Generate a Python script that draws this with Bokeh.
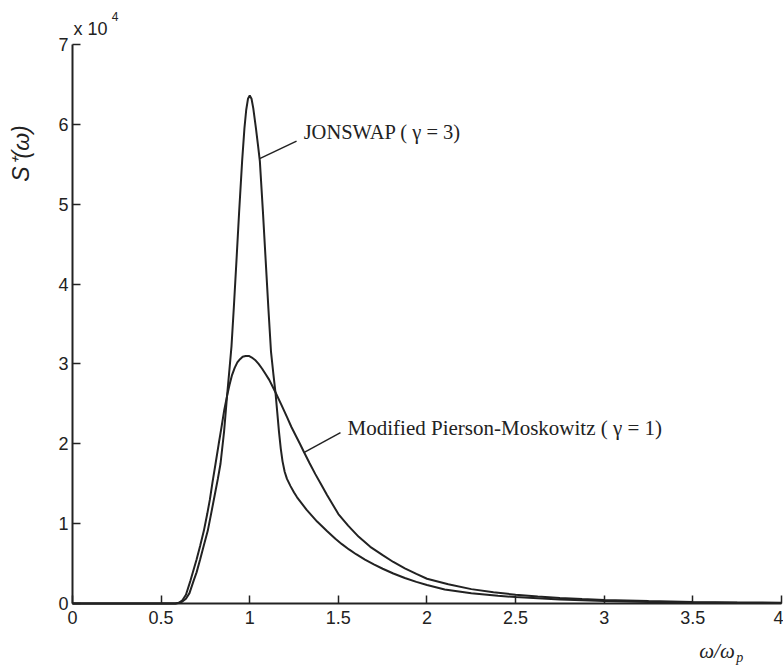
import math
from bokeh.plotting import figure
from bokeh.models import Range1d, FixedTicker, NumeralTickFormatter, Label
from bokeh.embed import file_html
from bokeh.resources import INLINE

# ---- data (S+(omega) in units of 1e4) ----
x_jonswap = [0.0, 0.50, 0.58, 0.60, 0.62, 0.64, 0.66, 0.684, 0.70, 0.72, 0.74, 0.763,
             0.78, 0.80, 0.82, 0.835, 0.855, 0.872, 0.885, 0.897, 0.91, 0.925, 0.94,
             0.957, 0.97, 0.98, 0.99, 1.00, 1.01, 1.02, 1.035, 1.046, 1.057, 1.074,
             1.09, 1.105, 1.12, 1.133, 1.145, 1.155, 1.165, 1.175, 1.185, 1.197, 1.21,
             1.23, 1.25, 1.267, 1.32, 1.38, 1.437, 1.483, 1.52, 1.56, 1.60, 1.65,
             1.70, 1.75, 1.81, 1.875, 1.94, 2.00, 2.10, 2.25, 2.40, 2.50, 2.75, 3.00,
             3.25, 3.50, 3.75, 4.00]
y_jonswap = [0.0, 0.0, 0.0, 0.005, 0.025, 0.06, 0.13, 0.29, 0.39, 0.55, 0.72, 0.91,
             1.10, 1.33, 1.56, 1.75, 2.15, 2.60, 2.92, 3.22, 3.70, 4.29, 4.90,
             5.54, 5.95, 6.18, 6.32, 6.36, 6.32, 6.20, 5.95, 5.75, 5.54, 4.92,
             4.29, 3.70, 3.15, 2.88, 2.645, 2.40, 2.15, 1.94, 1.78, 1.65, 1.56,
             1.47, 1.39, 1.33, 1.176, 1.026, 0.906, 0.81, 0.743, 0.677, 0.617, 0.55,
             0.49, 0.435, 0.376, 0.32, 0.271, 0.231, 0.176, 0.127, 0.097, 0.08, 0.05, 0.03,
             0.02, 0.012, 0.008, 0.005]

x_pm = [0.0, 0.50, 0.58, 0.60, 0.62, 0.64, 0.666, 0.70, 0.72, 0.741, 0.76, 0.775,
        0.79, 0.807, 0.825, 0.84, 0.856, 0.872, 0.886, 0.90, 0.915, 0.93, 0.945,
        0.96, 0.977, 0.995, 1.012, 1.03, 1.05, 1.07, 1.09, 1.11, 1.128, 1.145,
        1.178, 1.211, 1.235, 1.26, 1.283, 1.305, 1.337, 1.37, 1.403, 1.436, 1.468,
        1.50, 1.555, 1.615, 1.68, 1.75, 1.81, 1.875, 1.94, 2.00, 2.12, 2.25, 2.375,
        2.50, 2.625, 2.75, 2.875, 3.00, 3.25, 3.50, 3.75, 4.00]
y_pm = [0.0, 0.0, 0.0, 0.01, 0.04, 0.11, 0.29, 0.55, 0.72, 0.91, 1.12, 1.30,
        1.52, 1.75, 2.00, 2.20, 2.42, 2.60, 2.74, 2.86, 2.95, 3.02, 3.06,
        3.09, 3.10, 3.10, 3.08, 3.05, 3.00, 2.94, 2.87, 2.80, 2.72, 2.645,
        2.49, 2.33, 2.21, 2.10, 2.00, 1.90, 1.76, 1.62, 1.49, 1.36, 1.24,
        1.12, 0.975, 0.835, 0.71, 0.605, 0.52, 0.44, 0.37, 0.31, 0.24, 0.18, 0.14,
        0.11, 0.088, 0.07, 0.056, 0.045, 0.03, 0.02, 0.014, 0.01]

x_ticks = [0, 0.5, 1, 1.5, 2, 2.5, 3, 3.5, 4]
y_ticks = [0, 1, 2, 3, 4, 5, 6, 7]

label_jonswap = "JONSWAP ( γ = 3)"
label_pm = "Modified Pierson-Moskowitz ( γ = 1)"
leader_jonswap_x = [1.056, 1.264]
leader_jonswap_y = [5.57, 5.79]
leader_pm_x = [1.305, 1.512]
leader_pm_y = [1.89, 2.14]

INK = "#222222"

# frame covers the whole canvas; axes are pinned at x=0 / y=0
p = figure(width=783, height=667, output_backend="svg", toolbar_location=None,
           x_range=Range1d(-0.4062, 4.0113), y_range=Range1d(-0.8014, 7.551),
           min_border_left=0, min_border_right=0, min_border_top=0, min_border_bottom=0)
p.outline_line_color = None
p.grid.visible = False
p.background_fill_color = "white"
p.border_fill_color = "white"

for ax in (p.xaxis[0], p.yaxis[0]):
    ax.axis_line_width = 2
    ax.axis_line_color = INK
    ax.major_tick_in = 8
    ax.major_tick_out = 0
    ax.major_tick_line_width = 1.5
    ax.major_tick_line_color = INK
    ax.minor_tick_line_color = None
    ax.major_label_text_font = "Liberation Sans"
    ax.major_label_text_font_size = "18px"
    ax.major_label_text_color = INK
    ax.formatter = NumeralTickFormatter(format="0.[0]")

p.xaxis.ticker = FixedTicker(ticks=x_ticks)
p.yaxis.ticker = FixedTicker(ticks=y_ticks)
p.xaxis.bounds = (0, 4)
p.yaxis.bounds = (0, 7)
p.xaxis.fixed_location = 0
p.yaxis.fixed_location = 0
p.xaxis.major_label_standoff = 7
p.yaxis.major_label_standoff = 4

p.line(x_pm, y_pm, line_color=INK, line_width=2)
p.line(x_jonswap, y_jonswap, line_color=INK, line_width=2)

p.line(leader_jonswap_x, leader_jonswap_y, line_color=INK, line_width=1.5)
p.line(leader_pm_x, leader_pm_y, line_color=INK, line_width=1.5)

p.add_layout(Label(x=leader_jonswap_x[1] + 0.04, y=5.91, text=label_jonswap,
                   text_font="Liberation Serif", text_font_size="20.5px",
                   text_color=INK, text_baseline="middle", text_align="left"))
p.add_layout(Label(x=leader_pm_x[1] + 0.04, y=2.20, text=label_pm,
                   text_font="Liberation Serif", text_font_size="21px",
                   text_color=INK, text_baseline="middle", text_align="left"))

# y axis label and multiplier
p.add_layout(Label(x=-0.29, y=5.635, text="S⁺(ω)", angle=math.pi / 2,
                   text_font="Liberation Sans", text_font_style="italic",
                   text_font_size="23px", text_color=INK,
                   text_align="center", text_baseline="middle"))
p.add_layout(Label(x=0.006, y=7.19, text="x 10",
                   text_font="Liberation Sans", text_font_size="18px", text_color=INK,
                   text_align="left", text_baseline="middle"))
p.add_layout(Label(x=0.222, y=7.35, text="4",
                   text_font="Liberation Sans", text_font_size="12px", text_color=INK,
                   text_align="left", text_baseline="middle"))

# x axis label
p.add_layout(Label(x=3.536, y=-0.59, text="ω/ω",
                   text_font="Liberation Serif", text_font_style="italic",
                   text_font_size="21px", text_color=INK,
                   text_align="left", text_baseline="middle"))
p.add_layout(Label(x=3.745, y=-0.675, text="p",
                   text_font="Liberation Serif", text_font_style="italic",
                   text_font_size="14px", text_color=INK,
                   text_align="left", text_baseline="middle"))

open("out.html", "w").write(file_html(p, INLINE))
